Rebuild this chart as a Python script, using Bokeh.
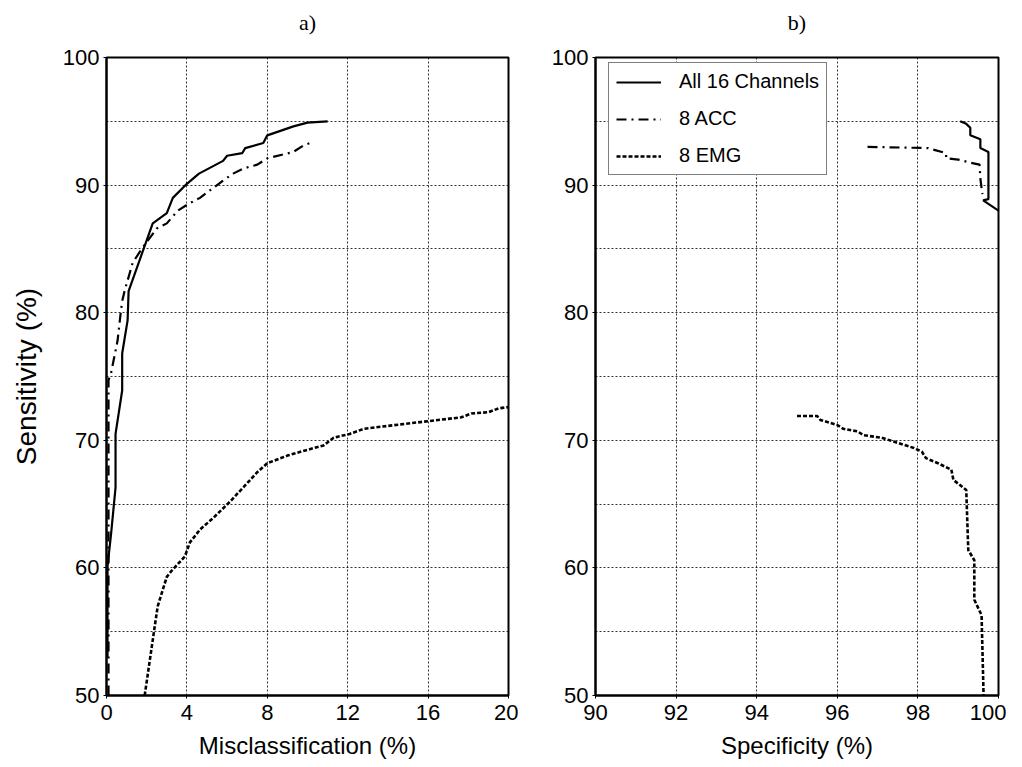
from bokeh.plotting import figure
from bokeh.layouts import row
from bokeh.models import FixedTicker, LinearAxis
from bokeh.embed import file_html
from bokeh.resources import INLINE

# ---------------- data ----------------
# a) Sensitivity vs Misclassification
all16_mis_x = [0.05, 0.05, 0.23, 0.45, 0.45, 0.78, 0.78, 1.05, 1.1, 2.3, 3.0, 3.3, 4.0, 4.6,
               5.8, 6.0, 6.75, 6.9, 7.8, 8.0, 9.3, 10.0, 11.0]
all16_mis_y = [53.0, 60.1, 62.7, 66.3, 70.5, 73.9, 76.8, 79.4, 81.7, 87.0, 87.8, 89.0, 90.1, 90.9,
               91.9, 92.3, 92.5, 92.9, 93.3, 93.9, 94.6, 94.9, 95.0]

acc_mis_x = [0.1, 0.1, 0.23, 0.55, 0.7, 0.78, 0.9, 1.3, 1.75, 2.5, 3.0, 3.55, 4.05, 4.65,
             5.75, 6.3, 6.8, 7.5, 8.0, 9.3, 9.8, 10.3]
acc_mis_y = [50.0, 74.7, 75.3, 77.8, 79.9, 80.9, 81.7, 83.9, 85.0, 86.6, 87.0, 88.0, 88.5, 89.0,
             90.3, 90.9, 91.3, 91.6, 92.1, 92.6, 93.1, 93.4]

emg_mis_x = [1.9, 2.5, 2.55, 3.0, 3.2, 3.9, 4.15, 4.65, 5.3, 6.15, 6.8, 7.5, 8.0, 9.0, 9.65,
             10.8, 11.3, 12.1, 12.8, 14.65, 16.0, 17.65, 18.15, 19.0, 19.5, 20.0]
emg_mis_y = [50.0, 56.5, 57.0, 59.3, 59.7, 60.9, 62.0, 63.0, 63.9, 65.2, 66.3, 67.5, 68.2, 68.8, 69.1,
             69.6, 70.2, 70.5, 70.9, 71.25, 71.5, 71.8, 72.1, 72.2, 72.5, 72.6]

# b) Sensitivity vs Specificity
all16_spec_x = [99.05, 99.2, 99.3, 99.3, 99.55, 99.55, 99.75, 99.75, 99.62, 100.0]
all16_spec_y = [95.0, 94.8, 94.5, 93.9, 93.6, 92.9, 92.6, 88.9, 88.8, 88.0]

acc_spec_x = [96.75, 98.25, 98.7, 98.7, 99.0, 99.25, 99.53, 99.55, 99.6]
acc_spec_y = [93.0, 92.9, 92.5, 92.1, 92.0, 91.8, 91.6, 90.5, 89.3]

emg_spec_x = [95.0, 95.5, 95.58, 96.0, 96.15, 96.5, 96.65, 97.1, 97.4, 97.9, 98.1, 98.2, 98.5,
              98.83, 98.88, 99.2, 99.25, 99.4, 99.4, 99.58, 99.63]
emg_spec_y = [71.9, 71.9, 71.6, 71.2, 70.9, 70.7, 70.4, 70.2, 69.9, 69.4, 69.1, 68.6, 68.2,
              67.7, 66.9, 66.1, 61.4, 60.6, 57.5, 56.3, 50.0]

series_labels = ["All 16 Channels", "8 ACC", "8 EMG"]
panel_titles = ["a)", "b)"]
y_ticks = [50, 60, 70, 80, 90, 100]
y_minor = [55, 65, 75, 85, 95]
x_ticks_a = [0, 4, 8, 12, 16, 20]
x_ticks_b = [90, 92, 94, 96, 98, 100]

SANS = "Liberation Sans"
SERIF = "Liberation Serif"
STYLES = [dict(line_dash="solid", line_width=2.2),
          dict(line_dash="10 5 2 5", line_width=2.2),
          dict(line_dash="4 2", line_width=2.6)]


def style(p, xticks, title):
    xa = p.below[0]
    ya = p.left[0]
    xt = FixedTicker(ticks=xticks)
    yt = FixedTicker(ticks=y_ticks, minor_ticks=y_minor)
    xa.ticker = xt
    ya.ticker = yt
    p.xgrid.ticker = xt
    p.ygrid.ticker = yt

    p.title.text = ""
    top = LinearAxis(axis_label=title, ticker=FixedTicker(ticks=[]))
    top.axis_line_color = None
    top.major_tick_line_color = None
    top.minor_tick_line_color = None
    top.major_tick_out = 0
    top.major_tick_in = 0
    top.minor_tick_out = 0
    top.minor_tick_in = 0
    top.major_label_standoff = 0
    top.axis_label_text_font = SERIF
    top.axis_label_text_font_size = "22px"
    top.axis_label_text_font_style = "normal"
    top.axis_label_text_color = "black"
    top.axis_label_standoff = 23
    p.add_layout(top, "above")

    p.outline_line_color = "black"
    p.outline_line_width = 2
    for ax in (xa, ya):
        ax.axis_line_color = "black"
        ax.axis_line_width = 2
        ax.major_tick_out = 3
        ax.major_tick_in = 0
        ax.minor_tick_out = 0
        ax.minor_tick_in = 0
        ax.major_tick_line_color = "black"
        ax.major_label_text_font = SANS
        ax.major_label_text_font_size = "22px"
        ax.major_label_text_color = "black"
        ax.axis_label_text_font = SANS
        ax.axis_label_text_font_size = "24px"
        ax.axis_label_text_font_style = "normal"
        ax.axis_label_text_color = "black"
    xa.major_label_text_line_height = 1.0
    xa.axis_label_text_line_height = 1.0
    xa.major_label_standoff = 6
    xa.axis_label_standoff = 9
    ya.major_label_standoff = 4
    for g in (p.xgrid, p.ygrid):
        g.grid_line_color = "black"
        g.grid_line_dash = "2 2"
        g.grid_line_width = 1
        g.grid_line_alpha = 0.8
    p.ygrid.minor_grid_line_color = "black"
    p.ygrid.minor_grid_line_dash = "2 2"
    p.ygrid.minor_grid_line_width = 1
    p.ygrid.minor_grid_line_alpha = 0.8


# ---------------- left panel ----------------
pa = figure(width=518, height=767, x_range=(0, 20), y_range=(50, 100),
            output_backend="svg", toolbar_location=None,
            min_border_left=106, min_border_right=10, min_border_top=57, min_border_bottom=72)
style(pa, x_ticks_a, panel_titles[0])
pa.below[0].axis_label = "Misclassification (%)"
pa.left[0].axis_label = "Sensitivity (%)"
pa.left[0].axis_label_text_font_size = "28px"
pa.left[0].axis_label_standoff = 18
for (xs, ys), st in zip([(all16_mis_x, all16_mis_y), (acc_mis_x, acc_mis_y), (emg_mis_x, emg_mis_y)], STYLES):
    pa.line(xs, ys, line_color="black", **st)

# ---------------- right panel ----------------
pb = figure(width=488, height=767, x_range=(90, 100), y_range=(50, 100),
            output_backend="svg", toolbar_location=None,
            min_border_left=77, min_border_right=8, min_border_top=57, min_border_bottom=72)
style(pb, x_ticks_b, panel_titles[1])
pb.below[0].axis_label = "Specificity (%)"
for (xs, ys), st, lab in zip([(all16_spec_x, all16_spec_y), (acc_spec_x, acc_spec_y), (emg_spec_x, emg_spec_y)],
                             STYLES, series_labels):
    pb.line(xs, ys, line_color="black", legend_label=lab, **st)

lg = pb.legend[0]
lg.location = (13, 520)
lg.margin = 0
lg.padding = 7
lg.spacing = 14
lg.glyph_width = 45
lg.label_standoff = 18
lg.label_text_font = SANS
lg.label_text_font_size = "20px"
lg.label_text_color = "black"
lg.border_line_color = "black"
lg.border_line_width = 1.5
lg.background_fill_alpha = 1.0

layout = row(pa, pb)
open("out.html", "w").write(file_html(layout, INLINE))
